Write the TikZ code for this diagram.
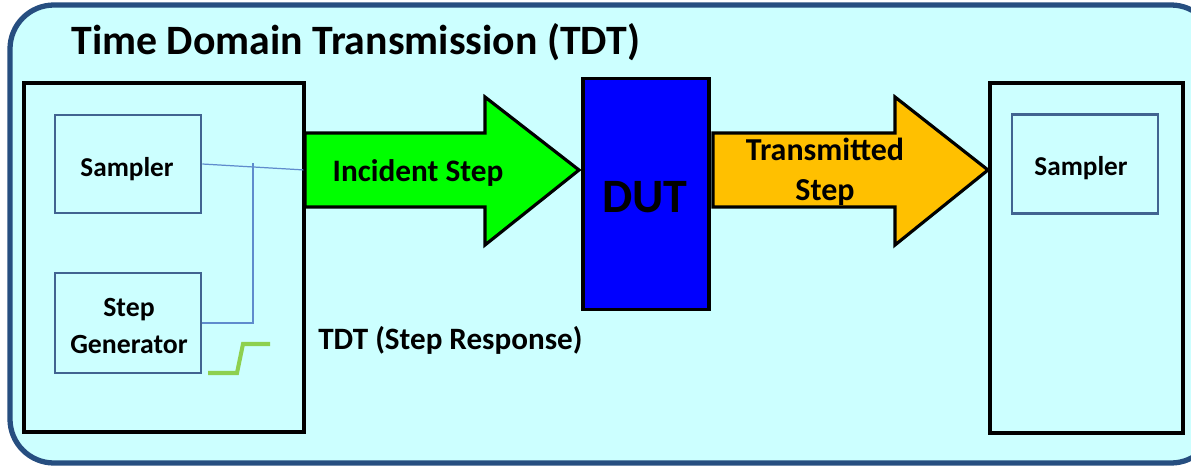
\documentclass[tikz,border=0pt]{standalone}
\usepackage{fontspec}
\setmainfont{Carlito}
\definecolor{bgc}{RGB}{204,255,255}
\definecolor{framec}{RGB}{38,78,128}
\definecolor{innerc}{RGB}{65,100,145}
\definecolor{wirec}{RGB}{95,140,205}
\definecolor{stepc}{RGB}{142,208,79}
\definecolor{arrgreen}{RGB}{0,255,0}
\definecolor{arrorange}{RGB}{255,192,0}
\definecolor{dutc}{RGB}{0,0,255}
\tikzset{
  blackbox/.style={draw=black, line width=1.8pt},
  innerbox/.style={draw=innerc, line width=1.5pt},
  wire/.style={draw=wirec, line width=0.7pt},
  bigarrow/.style={draw=black, line width=1.8pt, line join=miter},
  lbl/.style={font=\bfseries, text=black, inner sep=0pt, align=center},
}
\begin{document}
\begin{tikzpicture}[x=0.02cm,y=-0.02cm]
\useasboundingbox (0,0) rectangle (1191,467);
\clip (0,0) rectangle (1191,467);
% outer frame
\draw[fill=bgc, draw=framec, line width=3pt, rounded corners=25] (10,5) rectangle (1215,463);
% title
\node[lbl, anchor=west, font=\fontsize{23.8}{28}\selectfont\bfseries] (title) at (71,42) {Time Domain Transmission (TDT)};
% left box
\draw[blackbox] (24,83) rectangle (304,432);
\node[innerbox, minimum width=146*0.02cm, minimum height=98*0.02cm, inner sep=0pt] (samp1) at (128,164) {};
\node[lbl, font=\fontsize{15.5}{18}\selectfont\bfseries] (samp1t) at (127,169) {Sampler};
\node[innerbox, minimum width=146*0.02cm, minimum height=100*0.02cm, inner sep=0pt] (gen) at (128,323) {};
\node[lbl, font=\fontsize{15.8}{20.5}\selectfont\bfseries] (gent) at (129,326) {Step\\Generator};
% wires
\coordinate (lin) at (305,170);
\coordinate (vtop) at (253,163);
\coordinate (vbot) at (253,323);
\draw[wire] (samp1.east |- 0,164) -- (lin);
\draw[wire] (vtop) -- (vbot) -- (gen.east |- vbot);
% green step
\coordinate (s0) at (208,373);
\coordinate (s1) at (237,373);
\coordinate (s2) at (243,344);
\coordinate (s3) at (270,344);
\draw[stepc, line width=2.3pt] (s0) -- (s1) -- (s2) -- (s3);
\node[lbl, anchor=west, font=\fontsize{17.7}{21}\selectfont\bfseries] (tdtsr) at (318,340) {TDT (Step Response)};
% incident arrow
\draw[bigarrow, fill=arrgreen] (305,133) -- (485,133) -- (485,97) -- (579,170) -- (485,245) -- (485,207) -- (305,207) -- cycle;
\node[lbl, font=\fontsize{17.8}{21}\selectfont\bfseries] (inc) at (418,173) {Incident Step};
% DUT
\node[blackbox, fill=dutc, minimum width=126*0.02cm, minimum height=231*0.02cm, inner sep=0pt] (dut) at (646,194) {};
\node[lbl, font=\fontsize{27.3}{32}\selectfont\bfseries] (dutt) at (645,197) {DUT};
% transmitted arrow
\draw[bigarrow, fill=arrorange] (713,133) -- (895,133) -- (895,97) -- (988,170) -- (895,245) -- (895,207) -- (713,207) -- cycle;
\node[lbl, font=\fontsize{18.2}{22.5}\selectfont\bfseries] (trans) at (825,172) {Transmitted\\Step};
% right box
\draw[blackbox] (990,83) rectangle (1183,433);
\node[innerbox, minimum width=146*0.02cm, minimum height=99*0.02cm, inner sep=0pt] (samp2) at (1085,164) {};
\node[lbl, font=\fontsize{15.5}{18}\selectfont\bfseries] (samp2t) at (1081,168) {Sampler};
\end{tikzpicture}
\end{document}
